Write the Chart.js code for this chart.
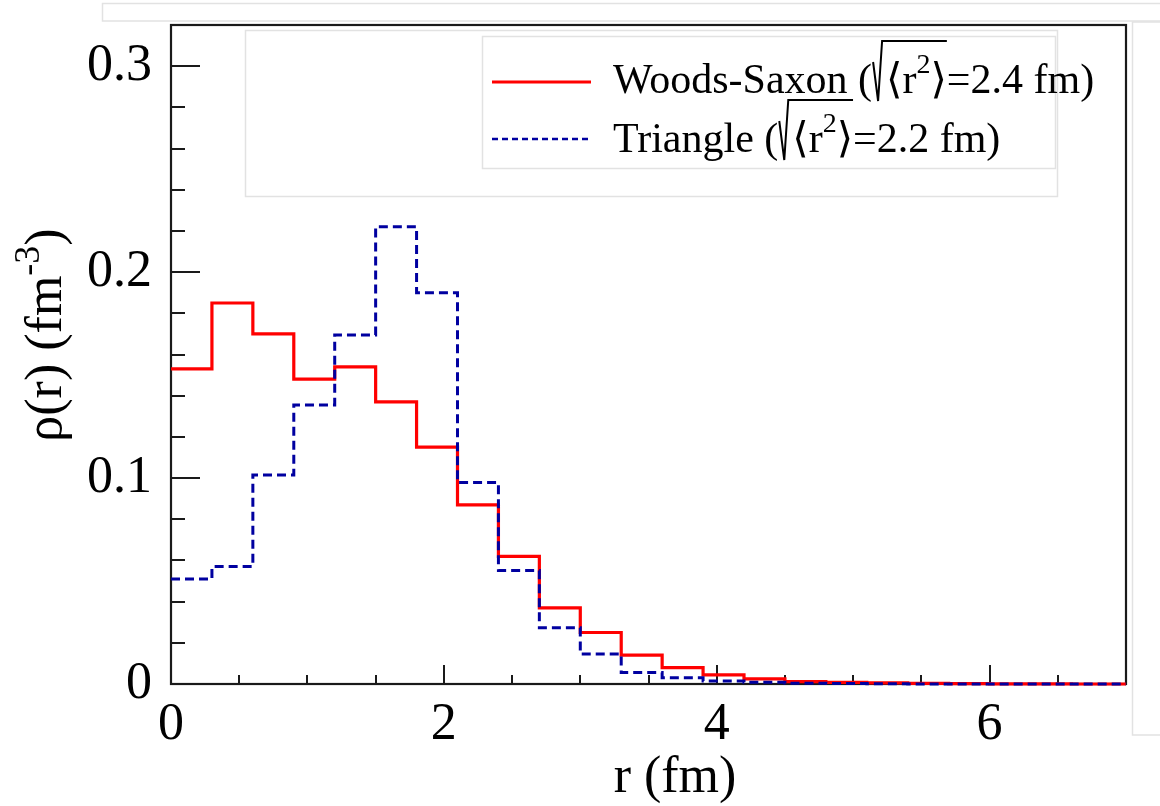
<!DOCTYPE html>
<html>
<head>
<meta charset="utf-8">
<script src="https://cdn.jsdelivr.net/npm/chart.js@4.4.1/dist/chart.umd.min.js"></script>
<style>
  html, body { margin: 0; padding: 0; background: #fff; }
  canvas { display: block; }
</style>
</head>
<body>
<canvas id="c" width="1160" height="806"></canvas>
<script>
// ---------------- data ----------------
const binLow = [0.0, 0.3, 0.6, 0.9, 1.2, 1.5, 1.8, 2.1, 2.4, 2.7, 3.0, 3.3,
                3.6, 3.9, 4.2, 4.5, 4.8, 5.1, 5.4, 5.7, 6.0, 6.3, 6.6, 6.9];
const woodsSaxon = [0.153, 0.185, 0.170, 0.148, 0.154, 0.137, 0.115, 0.087,
                    0.062, 0.037, 0.025, 0.014, 0.008, 0.0044, 0.0025, 0.0012,
                    0.0008, 0.0005, 0.0003, 0.0002, 0.0001, 0.0001, 0.0, 0.0];
const triangle = [0.051, 0.057, 0.1015, 0.1355, 0.1695, 0.222, 0.190, 0.0978,
                  0.0551, 0.0273, 0.0146, 0.0056, 0.003, 0.0015, 0.0008, 0.0004,
                  0.0002, 0.0001, 0.0, 0.0, 0.0, 0.0, 0.0, 0.0];
const xTickValues = [0, 2, 4, 6];
const xTickLabels = ['0', '2', '4', '6'];
const yTickValues = [0, 0.1, 0.2, 0.3];
const yTickLabels = ['0', '0.1', '0.2', '0.3'];
const xMin = 0, xMax = 7, yMin = 0, yMax = 0.32;
const seriesNames = ['Woods-Saxon', 'Triangle'];
const rmsValues = ['2.4', '2.2'];

// ---------------- helpers ----------------
const SERIF = "'Liberation Serif', 'DejaVu Serif', serif";
function stepPoints(vals) {
  const pts = binLow.map((x, i) => ({ x: x, y: vals[i] }));
  pts.push({ x: xMax, y: vals[vals.length - 1] });
  return pts;
}
function labelFor(values, labels) {
  return function (v) {
    const i = values.findIndex(t => Math.abs(t - v) < 1e-9);
    return i >= 0 ? labels[i] : '';
  };
}

// ---------------- decorations plugin ----------------
const decor = {
  id: 'decor',
  beforeDraw(chart) {
    const ctx = chart.ctx;
    ctx.save();
    ctx.fillStyle = '#fff';
    ctx.fillRect(0, 0, chart.width, chart.height);
    // faint page artefacts
    ctx.strokeStyle = '#e2e2e2';
    ctx.lineWidth = 1.5;
    ctx.strokeRect(102.5, 3.5, 1070, 17.5);
    ctx.strokeRect(245.5, 30.5, 812, 166);
    ctx.strokeRect(482.5, 36.5, 573, 132);
    ctx.strokeRect(1132.5, 22, 40, 713);
    ctx.restore();
  },
  beforeDatasetsDraw(chart) {
    const ctx = chart.ctx;
    const a = chart.chartArea;
    const xs = chart.scales.x, ys = chart.scales.y;
    ctx.save();
    ctx.strokeStyle = '#1a1a1a';
    ctx.lineWidth = 2;
    // ticks (inside)
    ctx.beginPath();
    for (let k = 0; k <= 16; k++) {
      const v = k * 0.02;
      if (v > yMax + 1e-9) break;
      const major = yTickValues.some(t => Math.abs(t - v) < 1e-9);
      const py = Math.round(ys.getPixelForValue(v));
      ctx.moveTo(a.left, py);
      ctx.lineTo(a.left + (major ? 29 : 14), py);
    }
    for (let k = 0; k <= 14; k++) {
      const v = k * 0.5;
      const major = xTickValues.some(t => Math.abs(t - v) < 1e-9);
      const px = Math.round(xs.getPixelForValue(v));
      ctx.moveTo(px, a.bottom);
      ctx.lineTo(px, a.bottom - (major ? 19 : 9));
    }
    ctx.stroke();
    // frame
    ctx.lineWidth = 2.2;
    ctx.strokeRect(a.left, a.top, a.right - a.left, a.bottom - a.top);
    ctx.restore();
  },
  afterDraw(chart) {
    const ctx = chart.ctx;
    ctx.save();
    ctx.fillStyle = '#000';
    ctx.textBaseline = 'alphabetic';

    // x title
    ctx.font = '52px ' + SERIF;
    ctx.textAlign = 'center';
    ctx.fillText('r (fm)', 675, 792);

    // y title rotated with superscript
    ctx.save();
    ctx.translate(61, 335);
    ctx.rotate(-Math.PI / 2);
    ctx.textAlign = 'left';
    const p1 = '\u03C1(r) (fm', sup = '-3', p3 = ')';
    ctx.font = '52px ' + SERIF;
    const w1 = ctx.measureText(p1).width, w3 = ctx.measureText(p3).width;
    ctx.font = '36px ' + SERIF;
    const w2 = ctx.measureText(sup).width;
    let x = -(w1 + w2 + w3) / 2;
    ctx.font = '52px ' + SERIF;
    ctx.fillText(p1, x, 0); x += w1;
    ctx.font = '36px ' + SERIF;
    ctx.fillText(sup, x, -22); x += w2;
    ctx.font = '52px ' + SERIF;
    ctx.fillText(p3, x, 0);
    ctx.restore();

    // legend
    const rows = [
      { y: 93, lineY: 82, color: '#ff0000', dash: [], lw: 3 },
      { y: 152, lineY: 139, color: '#0000a0', dash: [6, 4], lw: 2.6 }
    ];
    rows.forEach((r, i) => {
      ctx.save();
      ctx.strokeStyle = r.color;
      ctx.lineWidth = r.lw;
      ctx.setLineDash(r.dash);
      ctx.beginPath();
      ctx.moveTo(492, r.lineY);
      ctx.lineTo(591, r.lineY);
      ctx.stroke();
      ctx.restore();

      ctx.textAlign = 'left';
      ctx.font = '42px ' + SERIF;
      let tx = 613;
      const head = seriesNames[i] + ' (';
      ctx.fillText(head, tx, r.y);
      tx += ctx.measureText(head).width;
      const rx = tx;
      const inner0 = tx + 14;
      let ix = inner0;
      ctx.fillText('\u27E8r', ix, r.y);
      ix += ctx.measureText('\u27E8r').width;
      ctx.font = '28px ' + SERIF;
      ctx.fillText('2', ix, r.y - 20);
      ix += ctx.measureText('2').width;
      ctx.font = '42px ' + SERIF;
      ctx.fillText('\u27E9', ix, r.y);
      ix += ctx.measureText('\u27E9').width;
      // radical sign
      ctx.save();
      ctx.strokeStyle = '#000';
      ctx.lineWidth = 2;
      ctx.beginPath();
      ctx.moveTo(rx + 1, r.y - 31);
      ctx.lineTo(rx + 6, r.y + 8);
      ctx.lineTo(rx + 10, r.y - 52);
      ctx.lineTo(ix, r.y - 52);
      ctx.stroke();
      ctx.restore();
      ctx.fillText('=' + rmsValues[i] + ' fm)', ix, r.y);
    });
    ctx.restore();
  }
};

// ---------------- chart ----------------
new Chart(document.getElementById('c'), {
  type: 'line',
  data: {
    datasets: [
      {
        label: seriesNames[0],
        data: stepPoints(woodsSaxon),
        stepped: 'before',
        borderColor: '#ff0000',
        borderWidth: 3.2,
        pointRadius: 0,
        fill: false,
        clip: 6,
        order: 2
      },
      {
        label: seriesNames[1],
        data: stepPoints(triangle),
        stepped: 'before',
        borderColor: '#0000a0',
        borderWidth: 3,
        borderDash: [9, 5],
        pointRadius: 0,
        fill: false,
        clip: 6,
        order: 1
      }
    ]
  },
  options: {
    responsive: false,
    animation: false,
    devicePixelRatio: 1,
    layout: { padding: { left: 0, top: 25, right: 34, bottom: 0 } },
    plugins: { legend: { display: false }, tooltip: { enabled: false } },
    scales: {
      x: {
        type: 'linear',
        min: xMin, max: xMax,
        grid: { display: false, drawTicks: false },
        border: { display: false },
        ticks: {
          stepSize: 2,
          includeBounds: false,
          autoSkip: false,
          maxRotation: 0,
          padding: 10,
          color: '#000',
          font: { family: SERIF, size: 52 },
          callback: labelFor(xTickValues, xTickLabels)
        },
        afterFit(scale) {
          scale.height = 122;
          scale.paddingLeft = 0; scale.paddingRight = 0;
        }
      },
      y: {
        type: 'linear',
        min: yMin, max: yMax,
        grid: { display: false, drawTicks: false },
        border: { display: false },
        ticks: {
          stepSize: 0.1,
          includeBounds: false,
          autoSkip: false,
          padding: 19,
          color: '#000',
          font: { family: SERIF, size: 52 },
          callback: labelFor(yTickValues, yTickLabels)
        },
        afterFit(scale) {
          scale.width = 171;
          scale.paddingTop = 0; scale.paddingBottom = 0;
        }
      }
    }
  },
  plugins: [decor]
});
</script>
</body>
</html>
